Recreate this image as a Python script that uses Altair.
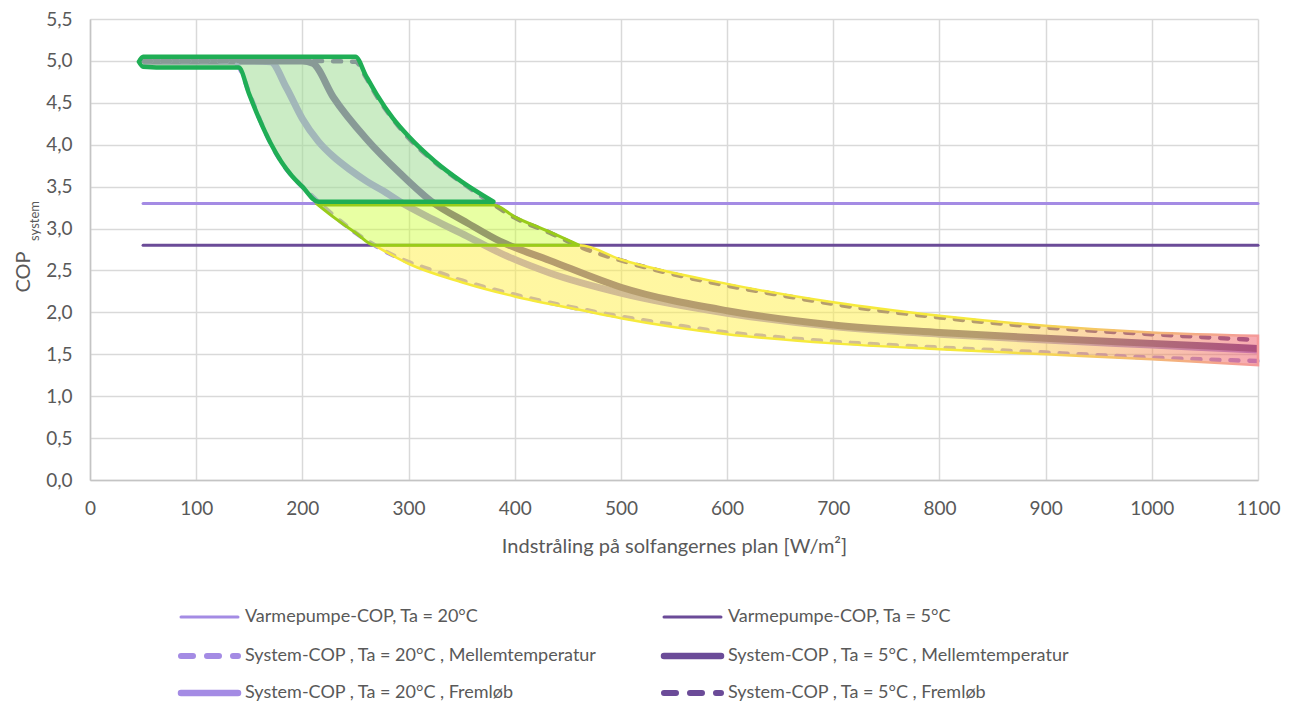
import altair as alt
import pandas as pd

# ---------------- data ----------------
# Heat-pump COP (horizontal)
vp_x = [50, 1100]
vp20_y = [3.3, 3.3]
vp5_y = [2.8, 2.8]

# System-COP, Ta = 20°C, Mellemtemperatur (lower dashed)
a_x = [50, 100, 135, 140, 150, 160, 170, 180, 190, 200, 215, 230, 250, 275, 300, 325, 350,
       375, 400, 450, 500, 550, 600, 650, 700, 800, 900, 1000, 1100]
a_y = [5.0, 5.0, 4.99, 4.93, 4.62, 4.30, 4.02, 3.80, 3.63, 3.50, 3.32, 3.15, 2.95, 2.75, 2.60,
       2.49, 2.38, 2.29, 2.21, 2.07, 1.95, 1.85, 1.76, 1.70, 1.65, 1.58, 1.52, 1.46, 1.42]

# System-COP, Ta = 20°C, Fremløb (solid, light)
b_x = [50, 100, 150, 170, 185, 200, 215, 229, 245, 261, 276, 292, 323, 355, 386, 433, 500,
       600, 700, 800, 900, 1000, 1100]
b_y = [5.0, 5.0, 5.0, 4.99, 4.68, 4.31, 4.04, 3.86, 3.70, 3.56, 3.45, 3.32, 3.11, 2.91, 2.71,
       2.47, 2.23, 1.99, 1.83, 1.74, 1.67, 1.61, 1.55]

# System-COP, Ta = 5°C, Mellemtemperatur (solid, dark)
c_x = [50, 100, 150, 200, 210, 229, 261, 292, 323, 355, 386, 433, 500, 600, 700, 800, 900,
       1000, 1100]
c_y = [5.0, 5.0, 5.0, 5.0, 4.97, 4.57, 4.06, 3.66, 3.31, 3.07, 2.85, 2.62, 2.30, 2.02, 1.85,
       1.76, 1.69, 1.63, 1.57]

# System-COP, Ta = 5°C, Fremløb (upper dashed)
d_x = [50, 100, 150, 200, 250, 260, 270, 285, 300, 325, 350, 375, 400, 433, 464, 500, 558,
       600, 653, 700, 800, 900, 1000, 1100]
d_y = [5.0, 5.0, 5.0, 5.0, 4.99, 4.80, 4.58, 4.31, 4.08, 3.79, 3.55, 3.33, 3.13, 2.95, 2.77,
       2.62, 2.43, 2.32, 2.20, 2.10, 1.94, 1.82, 1.74, 1.67]

# Highlight regions drawn over the curves
g_x = [46, 50, 75, 100, 125, 140, 150, 160, 170, 180, 190, 200, 215, 250, 260, 270, 285, 300,
       325, 350, 380]
g_top = [4.99, 5.05, 5.05, 5.05, 5.05, 5.05, 5.05, 5.05, 5.05, 5.05, 5.05, 5.05, 5.05, 5.05,
         4.82, 4.60, 4.32, 4.10, 3.80, 3.56, 3.32]
g_bot = [4.99, 4.93, 4.92, 4.92, 4.92, 4.92, 4.60, 4.29, 4.02, 3.80, 3.63, 3.50, 3.32, 3.32,
         3.32, 3.32, 3.32, 3.32, 3.32, 3.32, 3.32]

l_x = [215, 230, 250, 268, 300, 350, 380, 400, 433, 461]
l_top = [3.28, 3.28, 3.28, 3.28, 3.28, 3.28, 3.28, 3.14, 2.96, 2.80]
l_bot = [3.28, 3.13, 2.95, 2.80, 2.80, 2.80, 2.80, 2.80, 2.80, 2.80]

p_x = [268, 300, 350, 400, 461, 500, 600, 700, 800, 900, 1000, 1100]
p_top = [2.80, 2.80, 2.80, 2.80, 2.80, 2.63, 2.34, 2.12, 1.96, 1.84, 1.76, 1.72]
p_bot = [2.80, 2.58, 2.36, 2.19, 2.03, 1.93, 1.74, 1.63, 1.56, 1.50, 1.44, 1.37]

x_ticks = [0, 100, 200, 300, 400, 500, 600, 700, 800, 900, 1000, 1100]
y_ticks = [0, 0.5, 1.0, 1.5, 2.0, 2.5, 3.0, 3.5, 4.0, 4.5, 5.0, 5.5]

legend_labels = [
    "Varmepumpe-COP, Ta = 20°C",
    "Varmepumpe-COP, Ta = 5°C",
    "System-COP , Ta = 20°C , Mellemtemperatur",
    "System-COP , Ta = 5°C , Mellemtemperatur",
    "System-COP , Ta = 20°C , Fremløb",
    "System-COP , Ta = 5°C , Fremløb",
]

# ---------------- styling ----------------
FONT = "Lato"
TXT = "#595959"
LIGHT = "#a48be4"
DARK = "#6b4b98"
W, H = 1168, 461

xs = alt.Scale(domain=[0, 1100], nice=False, zero=False)
ys = alt.Scale(domain=[0, 5.5], nice=False)
xaxis = alt.Axis(values=x_ticks, title="Indstråling på solfangernes plan [W/m²]",
                 ticks=False, labelPadding=19, titlePadding=18, format="d",
                 labelFlush=False)
yaxis = alt.Axis(values=y_ticks, title=None, ticks=False, labelPadding=18,
                 labelFlush=False,
                 labelExpr="replace(format(datum.value, '.1f'), '.', ',')")


def enc(ch):
    return ch.encode(
        x=alt.X("x:Q", scale=xs, axis=xaxis),
        y=alt.Y("y:Q", scale=ys, axis=yaxis),
    )


def line(xv, yv, color, width, dash=None, cap="round"):
    kw = dict(color=color, strokeWidth=width, interpolate="monotone", strokeCap=cap)
    if dash:
        kw["strokeDash"] = dash
    return enc(alt.Chart(pd.DataFrame({"x": xv, "y": yv})).mark_line(**kw))


def region(xv, top, bot, **mark):
    df = pd.DataFrame({"x": xv, "y": bot, "y2": top})
    return alt.Chart(df).mark_area(interpolate="monotone", **mark).encode(
        x=alt.X("x:Q", scale=xs, axis=xaxis),
        y=alt.Y("y:Q", scale=ys, axis=yaxis),
        y2="y2:Q",
    )


layers = [
    line(vp_x, vp20_y, LIGHT, 3),
    line(vp_x, vp5_y, DARK, 3),
    line(b_x, b_y, LIGHT, 7, cap="butt"),
    line(c_x, c_y, DARK, 7, cap="butt"),
    line(a_x, a_y, LIGHT, 4.5, [8, 11]),
    line(d_x, d_y, DARK, 4.5, [8, 11]),
]

pale_fill = alt.LinearGradient(
    gradient="linear", x1=0, x2=1, y1=0, y2=0,
    stops=[alt.GradientStop(color="#ffee44", offset=0),
           alt.GradientStop(color="#ffee44", offset=0.68),
           alt.GradientStop(color="#ee5566", offset=1)])
pale_stroke = alt.LinearGradient(
    gradient="linear", x1=0, x2=1, y1=0, y2=0,
    stops=[alt.GradientStop(color="#f6ea3c", offset=0),
           alt.GradientStop(color="#f6ea3c", offset=0.68),
           alt.GradientStop(color="#f49a9a", offset=1)])

layers += [
    region(p_x, p_top, p_bot, fill=pale_fill, fillOpacity=0.5, stroke=pale_stroke,
           strokeWidth=2.5),
    region(l_x, l_top, l_bot, fill="#ccff33", fillOpacity=0.45, stroke="#99cc1a",
           strokeWidth=3),
    region(g_x, g_top, g_bot, fill="#a0dc96", fillOpacity=0.55, stroke="#1fae55",
           strokeWidth=4.5, strokeJoin="round"),
]

# y-axis title with subscript
layers.append(alt.Chart(pd.DataFrame({"t": ["COP"]}))
              .mark_text(angle=270, font=FONT, fontSize=20, color=TXT)
              .encode(x=alt.value(-66), y=alt.value(253), text="t:N"))
layers.append(alt.Chart(pd.DataFrame({"t": ["system"]}))
              .mark_text(angle=270, font=FONT, fontSize=13, color=TXT)
              .encode(x=alt.value(-55), y=alt.value(202), text="t:N"))

# legend (manual, 2 columns x 3 rows)
styles = [
    (LIGHT, 3, None), (DARK, 3, None),
    (LIGHT, 6, [12, 14]), (DARK, 6.5, None),
    (LIGHT, 6.5, None), (DARK, 6, [12, 14]),
]
col_x = [88, 571]
row_y = [598, 637, 674]
sym_len = 60
for i, (lab, (col, wd, dash)) in enumerate(zip(legend_labels, styles)):
    cx = col_x[i % 2]
    ry = row_y[i // 2]
    kw = dict(color=col, strokeWidth=wd, strokeCap="round")
    if dash:
        kw["strokeDash"] = dash
    layers.append(alt.Chart(pd.DataFrame({"t": [lab]})).mark_rule(**kw).encode(
        x=alt.value(cx + 3), x2=alt.value(cx + sym_len), y=alt.value(ry)))
    layers.append(alt.Chart(pd.DataFrame({"t": [lab]})).mark_text(
        font=FONT, fontSize=18, color=TXT, align="left", baseline="middle").encode(
        x=alt.value(cx + sym_len + 7), y=alt.value(ry), text="t:N"))

chart = alt.layer(*layers).properties(
    width=W, height=H,
    autosize=alt.AutoSizeParams(type="none"),
    padding={"left": 82, "top": 11, "right": 30, "bottom": 223},
).configure_view(stroke=None).configure_axis(
    labelFont=FONT, titleFont=FONT, labelFontSize=19, titleFontSize=20,
    labelColor=TXT, titleColor=TXT, titleFontWeight="normal",
    gridColor="#d9d9d9", gridWidth=1.5, domainColor="#c4c4c4", domainWidth=1.5,
)

chart.save("out.html", embed_options={"renderer": "svg", "actions": False})
